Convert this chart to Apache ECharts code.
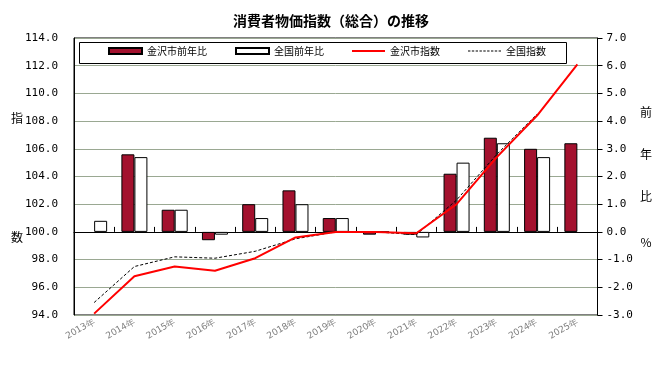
<!DOCTYPE html>
<html><head><meta charset="utf-8">
<script src="https://cdn.jsdelivr.net/npm/echarts@6/dist/echarts.min.js"></script>
<style>html,body{margin:0;padding:0;background:#fff}#c{width:662px;height:367px}</style>
</head><body><div id="c"></div>
<script>
const years = ['2013年','2014年','2015年','2016年','2017年','2018年','2019年','2020年','2021年','2022年','2023年','2024年','2025年'];
const kanazawaYoY = [null, 2.8, 0.8, -0.3, 1.0, 1.5, 0.5, -0.1, -0.1, 2.1, 3.4, 3.0, 3.2];
const nationalYoY = [0.4, 2.7, 0.8, -0.1, 0.5, 1.0, 0.5, 0.0, -0.2, 2.5, 3.2, 2.7, null];
const kanazawaIndex = [94.1, 96.8, 97.5, 97.2, 98.1, 99.6, 100.0, 100.0, 99.9, 102.0, 105.4, 108.4, 112.1];
const nationalIndex = [94.9, 97.5, 98.2, 98.1, 98.6, 99.5, 100.0, 100.0, 99.8, 102.3, 105.6, 108.5, null];
const leftTicks = {min: 94, max: 114, interval: 2};
const rightTicks = {min: -3, max: 7, interval: 1};

const chart = echarts.init(document.getElementById('c'), null, {renderer: 'canvas'});
const cjk = "'Noto Sans CJK JP', sans-serif";
const mono = "'DejaVu Sans Mono', monospace";
const sideText = (t, x, y) => ({type: 'text', x: x, y: y, z: 10,
  style: {text: t, font: "12px " + cjk, fill: '#000', align: 'center', verticalAlign: 'middle'}});

// legend line icons
const solidIcon = 'path://M0,0h33v2h-33z';
let dashPath = '';
for (let i = 0; i < 33; i += 4) dashPath += 'M' + i + ',0h2.5v1h-2.5z';
const dashIcon = 'path://' + dashPath;

chart.setOption({
  animation: false,
  backgroundColor: '#fff',
  title: {
    text: '消費者物価指数（総合）の推移', left: 'center', top: 9,
    textStyle: {fontFamily: cjk, fontSize: 14, fontWeight: 'bold', color: '#000'}
  },
  grid: {left: 74, right: 64.5, top: 38, bottom: 52, show: true, borderColor: '#000', borderWidth: 1, backgroundColor: 'transparent'},
  legend: {
    left: 108, top: 46, padding: 0, itemWidth: 33, itemHeight: 6, itemGap: 28, z: 5,
    symbolKeepAspect: true,
    textStyle: {fontFamily: cjk, fontSize: 10, color: '#000'},
    data: [
      {name: '金沢市前年比', icon: 'rect'},
      {name: '全国前年比', icon: 'rect'},
      {name: '金沢市指数', icon: solidIcon},
      {name: '全国指数', icon: dashIcon}
    ]
  },
  graphic: [
    {type: 'rect', z: 4, shape: {x: 79.5, y: 42.5, width: 487, height: 21},
      style: {fill: '#fff', stroke: '#000', lineWidth: 1}},
    sideText('指', 17, 118),
    sideText('数', 17, 237),
    sideText('前', 646, 112),
    sideText('年', 646, 154),
    sideText('比', 646, 196),
    sideText('%', 646, 242)
  ],
  xAxis: {
    type: 'category', data: years, boundaryGap: true,
    axisLine: {lineStyle: {color: '#000', width: 1}},
    axisTick: {show: true, inside: true, length: 5, lineStyle: {color: '#000'}},
    axisLabel: {rotate: 30, fontSize: 9, color: '#808080', margin: 6, fontFamily: "'DejaVu Sans', sans-serif", interval: 0}
  },
  yAxis: [
    {type: 'value', min: leftTicks.min, max: leftTicks.max, interval: leftTicks.interval, position: 'left',
      axisLine: {show: true, lineStyle: {color: '#000'}},
      axisTick: {show: false},
      axisLabel: {formatter: v => v.toFixed(1), fontFamily: mono, fontSize: 11, color: '#000', margin: 16},
      splitLine: {show: true, lineStyle: {color: '#9AA892', width: 1}}
    },
    {type: 'value', min: rightTicks.min, max: rightTicks.max, interval: rightTicks.interval, position: 'right',
      axisLine: {show: true, lineStyle: {color: '#000'}},
      axisTick: {show: true, length: 5, lineStyle: {color: '#000'}},
      axisLabel: {formatter: v => v.toFixed(1), fontFamily: mono, fontSize: 11, color: '#000', margin: 9},
      splitLine: {show: false}
    }
  ],
  series: [
    {name: '金沢市前年比', type: 'bar', yAxisIndex: 1, data: kanazawaYoY, barWidth: 13, barGap: '0%',
      itemStyle: {color: '#A3112E', borderColor: '#000', borderWidth: 1}},
    {name: '全国前年比', type: 'bar', yAxisIndex: 1, data: nationalYoY, barWidth: 13, barGap: '0%',
      itemStyle: {color: '#fff', borderColor: '#000', borderWidth: 1}},
    {name: '金沢市指数', type: 'line', yAxisIndex: 0, data: kanazawaIndex, symbol: 'none', z: 4,
      lineStyle: {color: '#FF0000', width: 2}, itemStyle: {color: '#FF0000'}},
    {name: '全国指数', type: 'line', yAxisIndex: 0, data: nationalIndex, symbol: 'none', z: 3,
      lineStyle: {color: '#000', width: 1, type: [3, 2]}, itemStyle: {color: '#000'}}
  ]
});
</script>
</body></html>
